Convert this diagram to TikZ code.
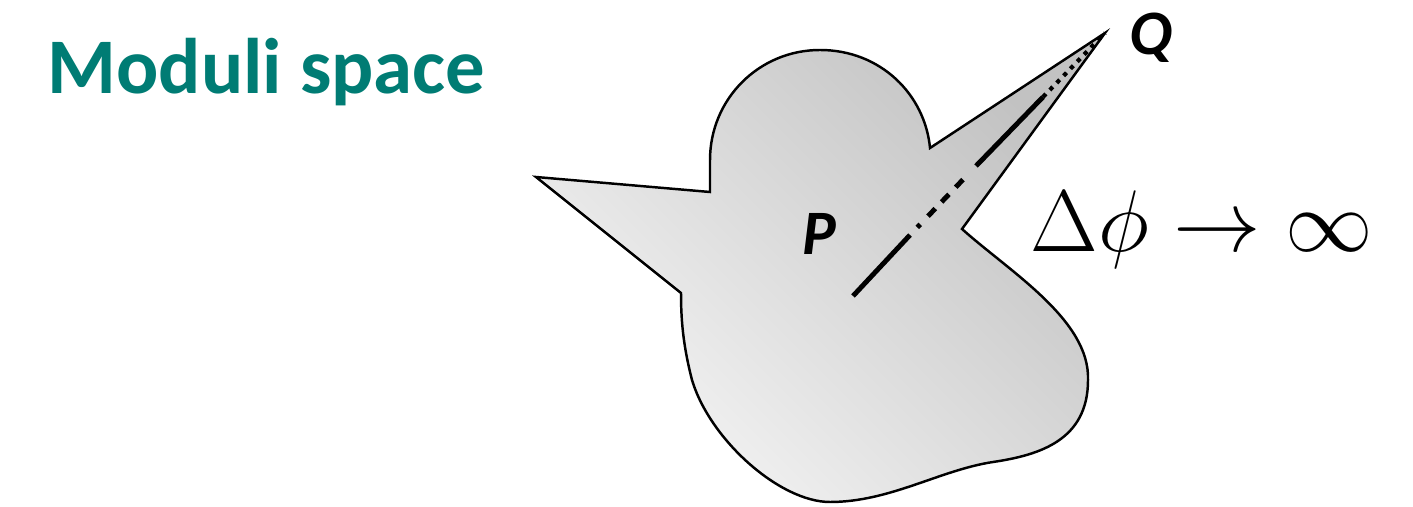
\documentclass[tikz,border=0pt]{standalone}
\usepackage{fontspec}
\newfontfamily\calibri{Carlito}
\definecolor{moduliteal}{RGB}{0,124,116}

\begin{document}
\begin{tikzpicture}[x=0.01cm, y=-0.01cm,
    region/.style={draw=black, line width=0.7pt, top color=black!24, bottom color=black!4, shading angle=-45},
    pathline/.style={line width=1.4pt},
    labelfont/.style={inner sep=0pt, anchor=base, font=\calibri\bfseries\itshape\fontsize{18}{20}\selectfont}]
    \useasboundingbox (0,0) rectangle (1413,507);

    \coordinate (spike) at (536,177);
    \coordinate (Qtip) at (1105,33);
    \coordinate (notch) at (962,229);

    % the region
    \path[region]
        (spike) -- (710,192) -- (710,160)
        .. controls (710,99) and (759,50) .. (820,50)
        .. controls (881,50) and (925,95) .. (930,148)
        -- (Qtip) -- (notch)
        .. controls (1010,272) and (1090,320) .. (1088,380)
        .. controls (1088,440) and (1040,455) .. (993,462)
        .. controls (940,470) and (890,502) .. (830,502)
        .. controls (780,502) and (710,440) .. (692,380)
        .. controls (683,345) and (681,320) .. (681,293)
        -- cycle;

    % path from P towards Q
    \coordinate (p0) at (853,296);
    \coordinate (p1) at (910,235);
    \coordinate (p2) at (976,166);
    \coordinate (p3) at (1043,97);
    \draw[pathline] (p0) -- (p1);
    \draw[pathline, dash pattern=on 0pt off 3pt on 1.2pt off 3.2pt on 3pt off 2.6pt on 3pt off 2.8pt on 3pt off 6pt] (p1) -- (p2);
    \draw[pathline] (p2) -- (p3);
    \draw[pathline, line width=1.2pt, dash pattern=on 1.2pt off 1.6pt] (p3) -- (Qtip);

    \node[labelfont] (P) at (819,255) {P};
    \node[labelfont] (Q) at (1151,55) {Q};

    \node[anchor=base west, inner sep=0pt, text=moduliteal, font=\calibri\bfseries\fontsize{22.4}{26}\selectfont] (title) at (47,94) {Moduli space};
    \node[anchor=base west, inner sep=0pt, font=\fontsize{24}{28}\selectfont] (limit) at (1030,252) {$\Delta\phi \to \infty$};
\end{tikzpicture}
\end{document}
